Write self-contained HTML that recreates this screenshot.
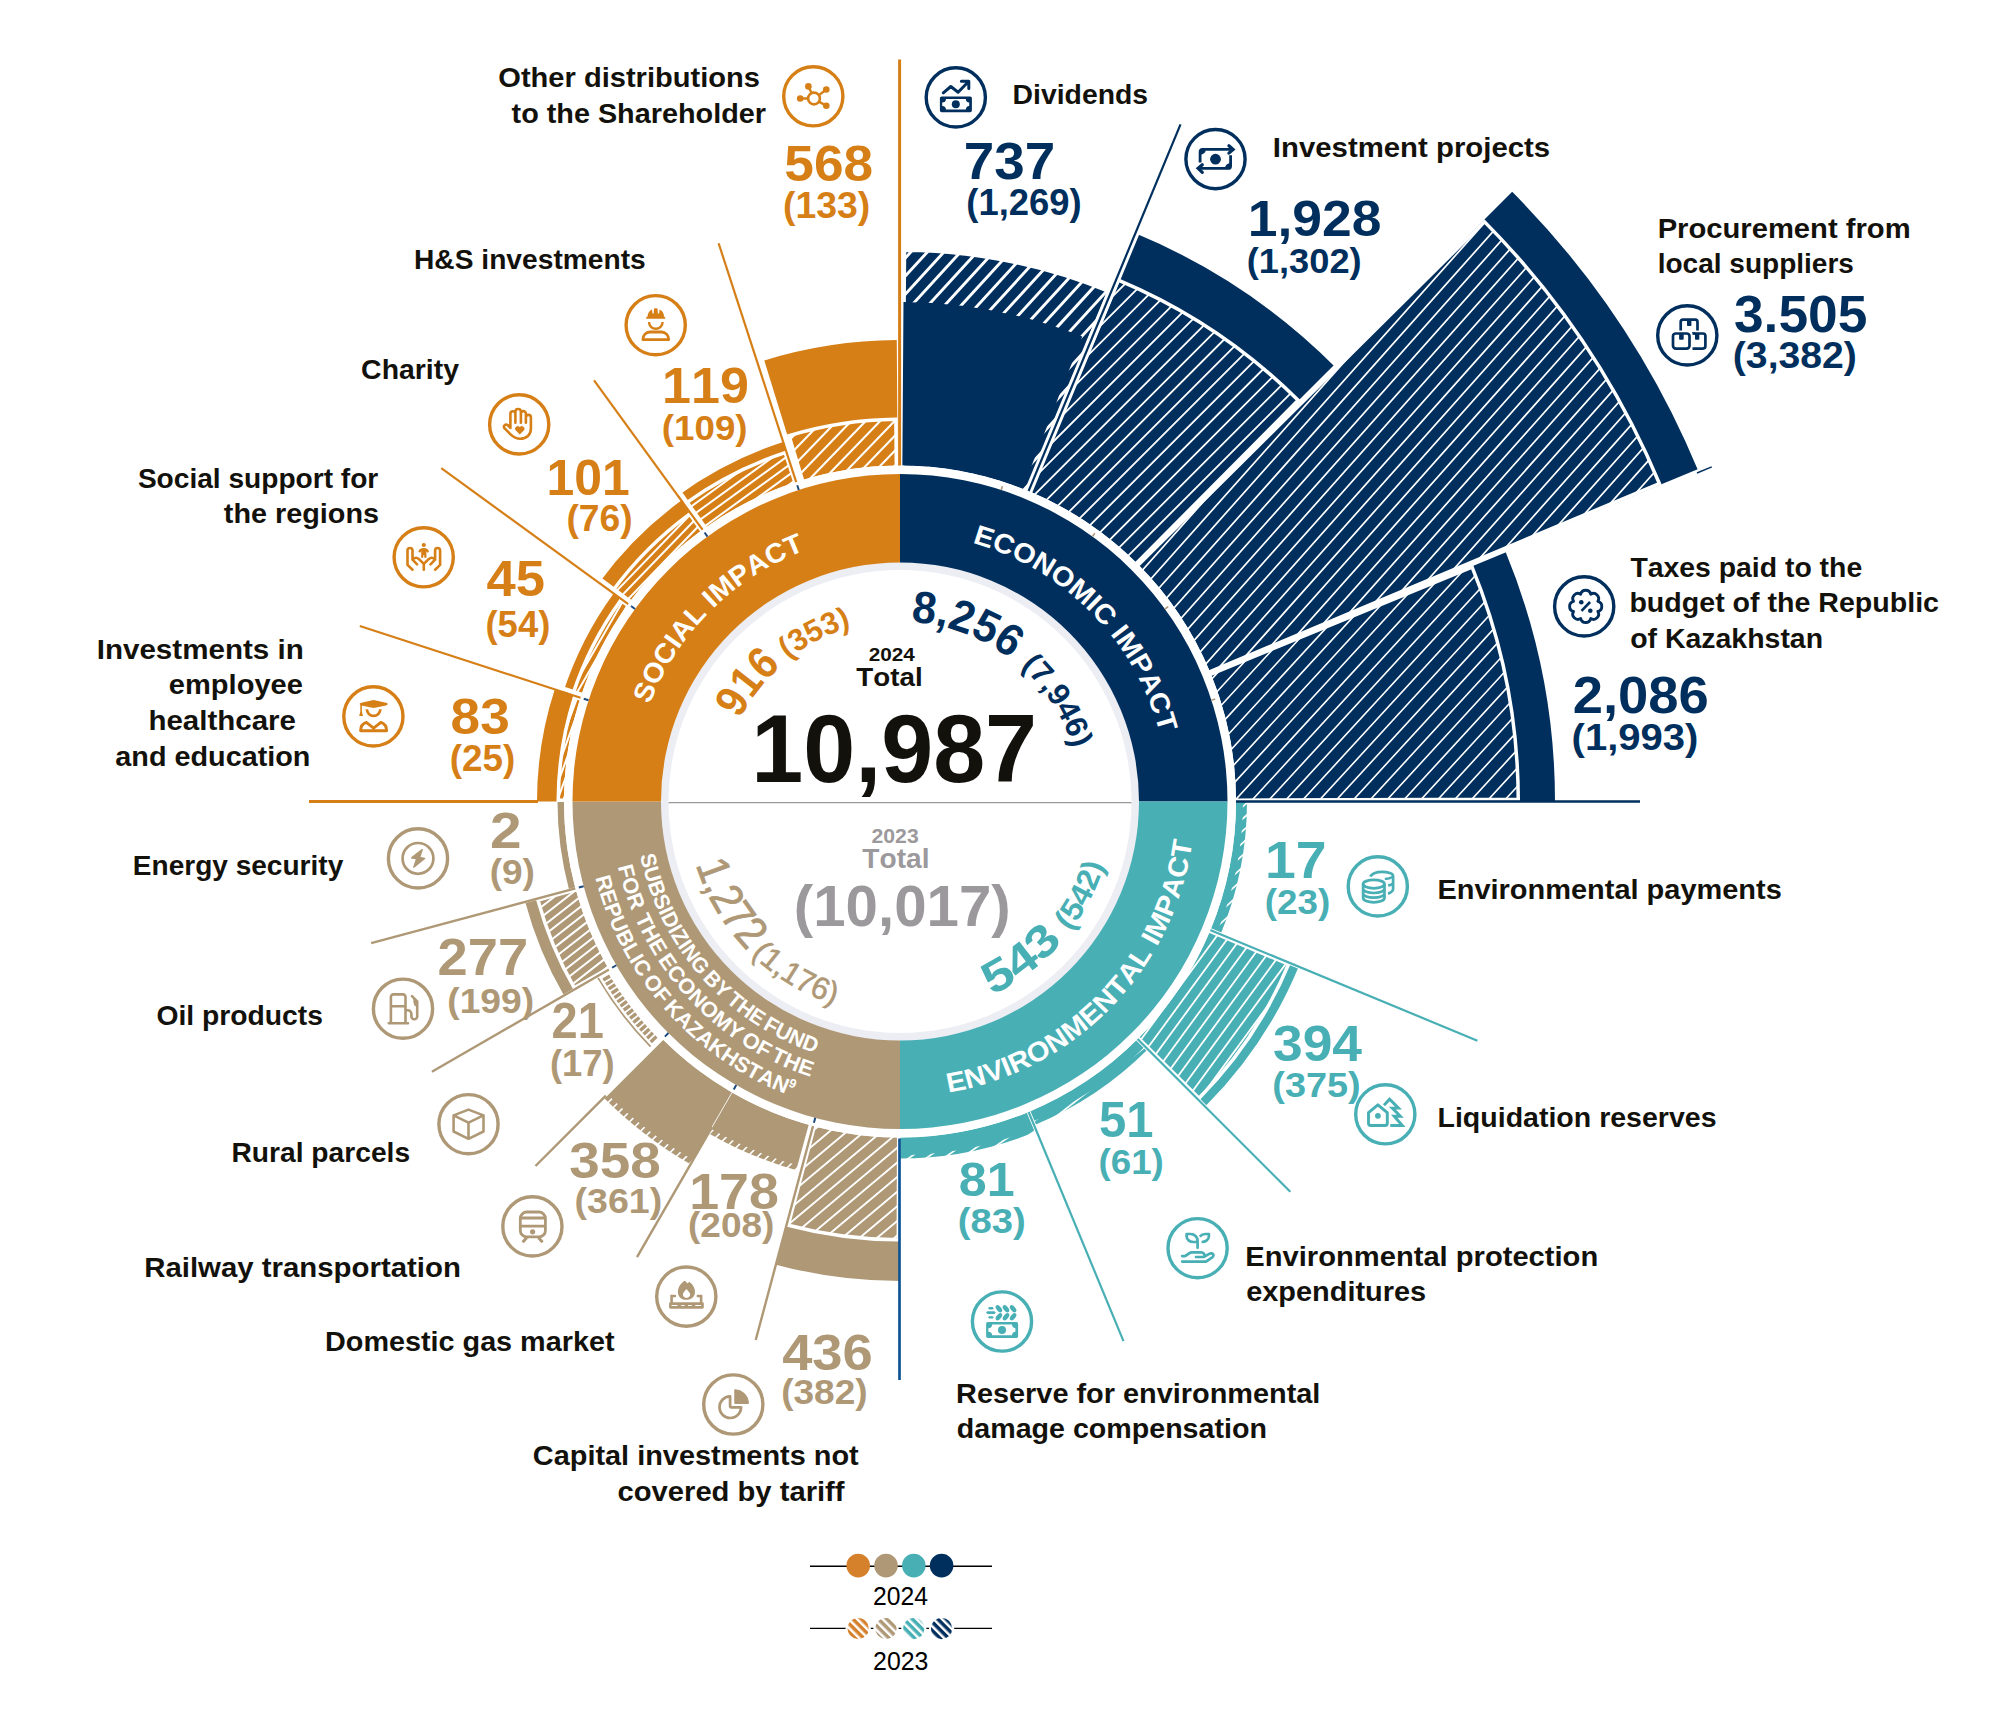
<!DOCTYPE html>
<html lang="en"><head><meta charset="utf-8"><title>Impact infographic</title><style>html,body{margin:0;padding:0;background:#fff}body{width:2001px;height:1722px;overflow:hidden}svg{display:block}text{white-space:pre;font-kerning:none;font-variant-ligatures:none}</style></head><body>
<svg width="2001" height="1722" viewBox="0 0 2001 1722" font-family="'Liberation Sans', 'DejaVu Sans', sans-serif">
<defs><pattern id="h_lo" width="6" height="6" patternUnits="userSpaceOnUse" patternTransform="rotate(-45)"><rect width="6" height="6" fill="#D5802B"/><rect x="0" y="0" width="2.5" height="6" fill="#fff"/></pattern><pattern id="h_lt" width="6" height="6" patternUnits="userSpaceOnUse" patternTransform="rotate(-45)"><rect width="6" height="6" fill="#AE9876"/><rect x="0" y="0" width="2.5" height="6" fill="#fff"/></pattern><pattern id="h_le" width="6" height="6" patternUnits="userSpaceOnUse" patternTransform="rotate(-45)"><rect width="6" height="6" fill="#48AFB5"/><rect x="0" y="0" width="2.5" height="6" fill="#fff"/></pattern><pattern id="h_ln" width="6" height="6" patternUnits="userSpaceOnUse" patternTransform="rotate(-45)"><rect width="6" height="6" fill="#002F5D"/><rect x="0" y="0" width="2.5" height="6" fill="#fff"/></pattern><clipPath id="c_div"><path d="M904.52 250.27A551.25 551.25 0 0 1 1109 291.41L1026.73 492.2A334.25 334.25 0 0 0 902.74 467.26Z"/></clipPath><clipPath id="c_inv"><path d="M1118.32 280.11A565.25 565.25 0 0 1 1298.15 400.28L1135.44 564.24A334.25 334.25 0 0 0 1029.1 493.19Z"/></clipPath><clipPath id="c_pro"><path d="M1484.36 221.61A823.25 823.25 0 0 1 1659.37 483.54L1208.31 672.4A334.25 334.25 0 0 0 1137.26 566.06Z"/></clipPath><clipPath id="c_tax"><path d="M1472.09 567.1A618.25 618.25 0 0 1 1518.25 799.13L1234.25 800.22A334.25 334.25 0 0 0 1209.3 674.77Z"/></clipPath><clipPath id="c_envp"><path d="M1248 801.5A348 348 0 0 1 1221.51 934.67L1216.89 932.76A343 343 0 0 0 1243 801.5Z"/></clipPath><clipPath id="c_liq"><path d="M1288.56 964.2A421.25 421.25 0 0 1 1199.01 1098.22L1137.26 1036.94A334.25 334.25 0 0 0 1208.31 930.6Z"/></clipPath><clipPath id="c_envx"><path d="M1148.55 1050.05A351.5 351.5 0 0 1 1034.51 1126.24L1032.6 1121.62A346.5 346.5 0 0 0 1145.01 1046.51Z"/></clipPath><clipPath id="c_res"><path d="M1037 1132.25A358 358 0 0 1 900 1159.5L900 1155A353.5 353.5 0 0 0 1035.28 1128.09Z"/></clipPath><clipPath id="c_cap"><path d="M898.32 1239.75A438.25 438.25 0 0 1 788.2 1225.25L814.73 1124.69A334.25 334.25 0 0 0 898.72 1135.75Z"/></clipPath><clipPath id="c_gas"><path d="M800.61 1172.42A384 384 0 0 1 708 1134.05L711 1128.86A378 378 0 0 0 802.17 1166.62Z"/></clipPath><clipPath id="c_rail"><path d="M690 1165.23A420 420 0 0 1 603.02 1098.48L607.26 1094.24A414 414 0 0 0 693 1160.03Z"/></clipPath><clipPath id="c_oil"><path d="M574.31 987.88A375.25 375.25 0 0 1 537.91 900.01L577.47 889.25A334.25 334.25 0 0 0 609.89 967.51Z"/></clipPath><clipPath id="c_emp"><path d="M558.25 800.19A341.75 341.75 0 0 1 574.57 697.14L581.72 699.43A334.25 334.25 0 0 0 565.75 800.22Z"/></clipPath><clipPath id="c_soc"><path d="M573.01 693.86A344.25 344.25 0 0 1 620.72 600.23L628.83 606.07A334.25 334.25 0 0 0 582.51 696.99Z"/></clipPath><clipPath id="c_cha"><path d="M612.59 591A356.25 356.25 0 0 1 689.5 514.09L702.5 531.84A334.25 334.25 0 0 0 630.34 604Z"/></clipPath><clipPath id="c_hs"><path d="M685.28 503.56A367.25 367.25 0 0 1 785.17 452.66L795.49 484.01A334.25 334.25 0 0 0 704.57 530.33Z"/></clipPath><clipPath id="c_oth"><path d="M789.01 435.72A382.25 382.25 0 0 1 895.86 419.27L896.38 467.27A334.25 334.25 0 0 0 802.94 481.65Z"/></clipPath><path id="cp1" d="M649.67 704.4A268.5 268.5 0 0 1 804.65 550.5"/><path id="cp2" d="M972.2 542.89A268.5 268.5 0 0 1 1159.59 732.91"/><path id="cp3" d="M948.18 1092.54A295 295 0 0 0 1192.27 841.54"/><path id="cp4" d="M640.02 855.34A265.5 265.5 0 0 0 815.32 1053.13"/><path id="cp5" d="M617.92 866.62A289.5 289.5 0 0 0 810.54 1076.83"/><path id="cp6" d="M595.33 877.46A314 314 0 0 0 791.58 1096.19"/><path id="cp7" d="M739.91 719.22A180 180 0 0 1 781.44 666.07"/><path id="cp8" d="M788.07 659.26A181 181 0 0 1 851.33 627.17"/><path id="cp9" d="M910.68 621.82A180 180 0 0 1 1010.32 659.27"/><path id="cp10" d="M1020.64 666.57A181 181 0 0 1 1073.09 748.58"/><path id="cp11" d="M696.05 864.63A213.5 213.5 0 0 0 747.46 950.88"/><path id="cp12" d="M751.16 954.56A213.5 213.5 0 0 0 834.02 1004.55"/><path id="cp13" d="M992.01 995.27A214.5 214.5 0 0 0 1062.86 941.09"/><path id="cp14" d="M1070 931.48A214 214 0 0 0 1104.43 864.78"/></defs>
<rect width="2001" height="1722" fill="#fff"/>
<g id="bars"><path d="M904.52 250.27A551.25 551.25 0 0 1 1109 291.41L1026.73 492.2A334.25 334.25 0 0 0 902.74 467.26Z" fill="#002F5D"/><path clip-path="url(#c_div)" d="M987.98 131.71L765.7 374.29M996.98 139.95L774.69 382.53M1005.97 148.2L783.69 390.78M1014.97 156.44L792.68 399.02M1023.96 164.68L801.68 407.26M1032.96 172.92L810.67 415.5M1041.95 181.17L819.67 423.75M1050.94 189.41L828.66 431.99M1059.94 197.65L837.66 440.23M1068.93 205.89L846.65 448.47M1077.93 214.13L855.65 456.71M1086.92 222.38L864.64 464.96M1095.92 230.62L873.64 473.2M1104.91 238.86L882.63 481.44M1113.91 247.1L891.63 489.68M1122.9 255.35L900.62 497.93M1131.9 263.59L909.61 506.17M1140.89 271.83L918.61 514.41M1149.89 280.07L927.6 522.65M1158.88 288.31L936.6 530.89M1167.88 296.56L945.59 539.14M1176.87 304.8L954.59 547.38M1185.87 313.04L963.58 555.62M1194.86 321.28L972.58 563.86M1203.86 329.53L981.57 572.11M1212.85 337.77L990.57 580.35M1221.85 346.01L999.56 588.59M1230.84 354.25L1008.56 596.83M1239.84 362.49L1017.55 605.07" stroke="#fff" stroke-width="2.9" fill="none"/><path d="M904.52 250.27A551.25 551.25 0 0 1 1109 291.41L1026.73 492.2A334.25 334.25 0 0 0 902.74 467.26Z" fill="none" stroke="#fff" stroke-width="3.5" stroke-linejoin="miter"/><path d="M903.49 302.01A499.5 499.5 0 0 1 1082.26 336.44L1022.6 488.67A336 336 0 0 0 902.35 465.51Z" fill="#002F5D"/><path d="M1135.35 233.31A615 615 0 0 1 1334.87 366.63L1137.59 563.91A336 336 0 0 0 1028.58 491.08Z" fill="#002F5D"/><path d="M1118.32 280.11A565.25 565.25 0 0 1 1298.15 400.28L1135.44 564.24A334.25 334.25 0 0 0 1029.1 493.19Z" fill="#002F5D"/><path clip-path="url(#c_inv)" d="M1157.37 131.33L872.78 415.92M1165.96 139.92L881.37 424.52M1174.56 148.51L889.96 433.11M1183.15 157.1L898.55 441.7M1191.74 165.69L907.14 450.29M1200.33 174.29L915.73 458.88M1208.92 182.88L924.33 467.47M1217.51 191.47L932.92 476.06M1226.1 200.06L941.51 484.66M1234.69 208.65L950.1 493.25M1243.29 217.24L958.69 501.84M1251.88 225.83L967.28 510.43M1260.47 234.43L975.87 519.02M1269.06 243.02L984.47 527.61M1277.65 251.61L993.06 536.2M1286.24 260.2L1001.65 544.79M1294.83 268.79L1010.24 553.39M1303.43 277.38L1018.83 561.98M1312.02 285.97L1027.42 570.57M1320.61 294.57L1036.01 579.16M1329.2 303.16L1044.6 587.75M1337.79 311.75L1053.2 596.34M1346.38 320.34L1061.79 604.93M1354.97 328.93L1070.38 613.53M1363.56 337.52L1078.97 622.12M1372.16 346.11L1087.56 630.71M1380.75 354.7L1096.15 639.3M1389.34 363.3L1104.74 647.89M1397.93 371.89L1113.34 656.48M1406.52 380.48L1121.93 665.07M1415.11 389.07L1130.52 673.67M1423.7 397.66L1139.11 682.26M1432.3 406.25L1147.7 690.85M1440.89 414.84L1156.29 699.44M1449.48 423.44L1164.88 708.03" stroke="#fff" stroke-width="1.8" fill="none"/><path d="M1118.32 280.11A565.25 565.25 0 0 1 1298.15 400.28L1135.44 564.24A334.25 334.25 0 0 0 1029.1 493.19Z" fill="none" stroke="#fff" stroke-width="3.5" stroke-linejoin="miter"/><path d="M1510.94 190.56A864 864 0 0 1 1698.23 470.86L1210.42 672.92A336 336 0 0 0 1137.59 563.91Z" fill="#002F5D"/><path d="M1484.36 221.61A823.25 823.25 0 0 1 1659.37 483.54L1208.31 672.4A334.25 334.25 0 0 0 1137.26 566.06Z" fill="#002F5D"/><path clip-path="url(#c_pro)" d="M1365.83 -47.48L903.37 471.58M1374.94 -39.36L912.48 479.7M1384.05 -31.25L921.59 487.81M1393.16 -23.13L930.7 495.93M1402.27 -15.02L939.8 504.04M1411.38 -6.9L948.91 512.16M1420.49 1.22L958.02 520.28M1429.6 9.33L967.13 528.39M1438.71 17.45L976.24 536.51M1447.82 25.56L985.35 544.62M1456.92 33.68L994.46 552.74M1466.03 41.79L1003.57 560.86M1475.14 49.91L1012.68 568.97M1484.25 58.03L1021.79 577.09M1493.36 66.14L1030.89 585.2M1502.47 74.26L1040 593.32M1511.58 82.37L1049.11 601.43M1520.69 90.49L1058.22 609.55M1529.8 98.61L1067.33 617.67M1538.91 106.72L1076.44 625.78M1548.01 114.84L1085.55 633.9M1557.12 122.95L1094.66 642.01M1566.23 131.07L1103.77 650.13M1575.34 139.18L1112.88 658.24M1584.45 147.3L1121.98 666.36M1593.56 155.42L1131.09 674.48M1602.67 163.53L1140.2 682.59M1611.78 171.65L1149.31 690.71M1620.89 179.76L1158.42 698.82M1630 187.88L1167.53 706.94M1639.1 196L1176.64 715.06M1648.21 204.11L1185.75 723.17M1657.32 212.23L1194.86 731.29M1666.43 220.34L1203.97 739.4M1675.54 228.46L1213.07 747.52M1684.65 236.57L1222.18 755.63M1693.76 244.69L1231.29 763.75M1702.87 252.81L1240.4 771.87M1711.98 260.92L1249.51 779.98M1721.09 269.04L1258.62 788.1M1730.19 277.15L1267.73 796.21M1739.3 285.27L1276.84 804.33M1748.41 293.39L1285.95 812.45M1757.52 301.5L1295.06 820.56M1766.63 309.62L1304.16 828.68M1775.74 317.73L1313.27 836.79M1784.85 325.85L1322.38 844.91M1793.96 333.96L1331.49 853.02M1803.07 342.08L1340.6 861.14M1812.18 350.2L1349.71 869.26M1821.28 358.31L1358.82 877.37M1830.39 366.43L1367.93 885.49M1839.5 374.54L1377.04 893.6M1848.61 382.66L1386.15 901.72M1857.72 390.77L1395.25 909.84M1866.83 398.89L1404.36 917.95M1875.94 407.01L1413.47 926.07M1885.05 415.12L1422.58 934.18M1894.16 423.24L1431.69 942.3" stroke="#fff" stroke-width="1.7" fill="none"/><path d="M1484.36 221.61A823.25 823.25 0 0 1 1659.37 483.54L1208.31 672.4A334.25 334.25 0 0 0 1137.26 566.06Z" fill="none" stroke="#fff" stroke-width="3.5" stroke-linejoin="miter"/><path d="M1505.14 550.84A655 655 0 0 1 1555 801.5L1236 801.5A336 336 0 0 0 1210.42 672.92Z" fill="#002F5D"/><path d="M1472.09 567.1A618.25 618.25 0 0 1 1518.25 799.13L1234.25 800.22A334.25 334.25 0 0 0 1209.3 674.77Z" fill="#002F5D"/><path clip-path="url(#c_tax)" d="M1347.89 402.77L1082.54 691.33M1357.01 411.16L1091.66 699.73M1366.14 419.56L1100.79 708.12M1375.27 427.95L1109.92 716.51M1384.4 436.34L1119.05 724.91M1393.52 444.74L1128.18 733.3M1402.65 453.13L1137.3 741.69M1411.78 461.52L1146.43 750.09M1420.91 469.92L1155.56 758.48M1430.03 478.31L1164.69 766.87M1439.16 486.7L1173.81 775.27M1448.29 495.1L1182.94 783.66M1457.42 503.49L1192.07 792.05M1466.55 511.88L1201.2 800.45M1475.67 520.28L1210.32 808.84M1484.8 528.67L1219.45 817.23M1493.93 537.06L1228.58 825.63M1503.06 545.45L1237.71 834.02M1512.18 553.85L1246.83 842.41M1521.31 562.24L1255.96 850.81M1530.44 570.63L1265.09 859.2M1539.57 579.03L1274.22 867.59M1548.69 587.42L1283.34 875.99M1557.82 595.81L1292.47 884.38M1566.95 604.21L1301.6 892.77M1576.08 612.6L1310.73 901.17M1585.2 620.99L1319.85 909.56M1594.33 629.39L1328.98 917.95M1603.46 637.78L1338.11 926.35M1612.59 646.17L1347.24 934.74M1621.71 654.57L1356.37 943.13M1630.84 662.96L1365.49 951.53M1639.97 671.35L1374.62 959.92M1649.1 679.75L1383.75 968.31" stroke="#fff" stroke-width="1.6" fill="none"/><path d="M1472.09 567.1A618.25 618.25 0 0 1 1518.25 799.13L1234.25 800.22A334.25 334.25 0 0 0 1209.3 674.77Z" fill="none" stroke="#fff" stroke-width="3.5" stroke-linejoin="miter"/><path d="M1247 801.5A347 347 0 0 1 1220.59 934.29L1210.42 930.08A336 336 0 0 0 1236 801.5Z" fill="#48AFB5"/><path clip-path="url(#c_envp)" d="M1234.33 777.87L1142.53 860.53M1240.35 784.56L1148.55 867.22M1246.37 791.25L1154.57 873.91M1252.4 797.94L1160.6 880.59M1258.42 804.63L1166.62 887.28M1264.44 811.32L1172.64 893.97M1270.46 818L1178.66 900.66M1276.48 824.69L1184.68 907.35M1282.51 831.38L1190.71 914.04M1288.53 838.07L1196.73 920.72M1294.55 844.76L1202.75 927.41M1300.57 851.45L1208.77 934.1M1306.59 858.13L1214.8 940.79M1312.62 864.82L1220.82 947.48M1318.64 871.51L1226.84 954.17M1324.66 878.2L1232.86 960.85" stroke="#fff" stroke-width="1.7" fill="none"/><path d="M1298.65 966.63A431.5 431.5 0 0 1 1205.12 1106.62L1137.59 1039.09A336 336 0 0 0 1210.42 930.08Z" fill="#48AFB5"/><path d="M1288.56 964.2A421.25 421.25 0 0 1 1199.01 1098.22L1137.26 1036.94A334.25 334.25 0 0 0 1208.31 930.6Z" fill="#48AFB5"/><path clip-path="url(#c_liq)" d="M1181.2 845.09L1041.93 1035.38M1189.51 851.18L1050.24 1041.47M1197.83 857.26L1058.55 1047.55M1206.14 863.34L1066.87 1053.63M1214.45 869.43L1075.18 1059.72M1222.76 875.51L1083.49 1065.8M1231.07 881.59L1091.8 1071.88M1239.38 887.68L1100.11 1077.97M1247.7 893.76L1108.42 1084.05M1256.01 899.84L1116.74 1090.13M1264.32 905.93L1125.05 1096.22M1272.63 912.01L1133.36 1102.3M1280.94 918.09L1141.67 1108.38M1289.25 924.18L1149.98 1114.46M1297.57 930.26L1158.29 1120.55M1305.88 936.34L1166.61 1126.63M1314.19 942.43L1174.92 1132.71M1322.5 948.51L1183.23 1138.8M1330.81 954.59L1191.54 1144.88M1339.12 960.67L1199.85 1150.96M1347.44 966.76L1208.16 1157.05M1355.75 972.84L1216.48 1163.13M1364.06 978.92L1224.79 1169.21M1372.37 985.01L1233.1 1175.3M1380.68 991.09L1241.41 1181.38" stroke="#fff" stroke-width="1.8" fill="none"/><path d="M1288.56 964.2A421.25 421.25 0 0 1 1199.01 1098.22L1137.26 1036.94A334.25 334.25 0 0 0 1208.31 930.6Z" fill="none" stroke="#fff" stroke-width="3.5" stroke-linejoin="miter"/><path d="M1147.84 1049.34A350.5 350.5 0 0 1 1034.13 1125.32L1028.58 1111.92A336 336 0 0 0 1137.59 1039.09Z" fill="#48AFB5"/><path clip-path="url(#c_envx)" d="M1102.62 978.61L983.09 1072M1108.78 986.49L989.25 1079.88M1114.94 994.37L995.41 1087.76M1121.09 1002.25L1001.56 1095.64M1127.25 1010.13L1007.72 1103.52M1133.41 1018.01L1013.88 1111.4M1139.56 1025.89L1020.03 1119.28M1145.72 1033.77L1026.19 1127.16M1151.88 1041.65L1032.35 1135.04M1158.03 1049.53L1038.5 1142.92M1164.19 1057.41L1044.66 1150.8M1170.35 1065.29L1050.82 1158.68M1176.5 1073.17L1056.97 1166.56M1182.66 1081.05L1063.13 1174.44M1188.82 1088.93L1069.29 1182.32M1194.97 1096.81L1075.44 1190.2M1201.13 1104.69L1081.6 1198.08" stroke="#fff" stroke-width="1.7" fill="none"/><path d="M1036.62 1131.32A357 357 0 0 1 900 1158.5L900 1137.5A336 336 0 0 0 1028.58 1111.92Z" fill="#48AFB5"/><path clip-path="url(#c_res)" d="M990.59 1052.09L874.77 1133.18M996.32 1060.28L880.51 1141.38M1002.06 1068.47L886.24 1149.57M1007.79 1076.67L891.98 1157.76M1013.53 1084.86L897.72 1165.95M1019.26 1093.05L903.45 1174.14M1025 1101.24L909.19 1182.33M1030.74 1109.43L914.92 1190.53M1036.47 1117.62L920.66 1198.72M1042.21 1125.82L926.4 1206.91M1047.94 1134.01L932.13 1215.1M1053.68 1142.2L937.87 1223.29M1059.42 1150.39L943.6 1231.48M1065.15 1158.58L949.34 1239.67" stroke="#fff" stroke-width="1.7" fill="none"/><path d="M900 1281A479.5 479.5 0 0 1 775.9 1264.66L813.04 1126.05A336 336 0 0 0 900 1137.5Z" fill="#AE9876"/><path d="M898.32 1239.75A438.25 438.25 0 0 1 788.2 1225.25L814.73 1124.69A334.25 334.25 0 0 0 898.72 1135.75Z" fill="#AE9876"/><path clip-path="url(#c_cap)" d="M849.01 1056.68L718.87 1165.89M856.21 1065.26L726.07 1174.47M863.41 1073.84L733.27 1183.05M870.61 1082.42L740.46 1191.63M877.81 1091L747.66 1200.21M885.01 1099.58L754.86 1208.79M892.2 1108.16L762.06 1217.37M899.4 1116.74L769.26 1225.94M906.6 1125.32L776.46 1234.52M913.8 1133.9L783.66 1243.1M921 1142.48L790.86 1251.68M928.2 1151.06L798.06 1260.26M935.4 1159.64L805.26 1268.84M942.6 1168.22L812.46 1277.42M949.8 1176.8L819.66 1286M957 1185.38L826.86 1294.58M964.2 1193.96L834.05 1303.16" stroke="#fff" stroke-width="1.9" fill="none"/><path d="M898.32 1239.75A438.25 438.25 0 0 1 788.2 1225.25L814.73 1124.69A334.25 334.25 0 0 0 898.72 1135.75Z" fill="none" stroke="#fff" stroke-width="3.5" stroke-linejoin="miter"/><path d="M800.87 1171.45A383 383 0 0 1 708.5 1133.19L732 1092.48A336 336 0 0 0 813.04 1126.05Z" fill="#AE9876"/><path clip-path="url(#c_gas)" d="M751.97 1070.66L675.11 1147.53M757.06 1075.76L680.2 1152.62M762.16 1080.85L685.29 1157.71M767.25 1085.94L690.38 1162.8M772.34 1091.03L695.48 1167.89M777.43 1096.12L700.57 1172.98M782.52 1101.21L705.66 1178.07M787.61 1106.3L710.75 1183.17M792.7 1111.39L715.84 1188.26M797.79 1116.49L720.93 1193.35M802.89 1121.58L726.02 1198.44M807.98 1126.67L731.11 1203.53M813.07 1131.76L736.21 1208.62M818.16 1136.85L741.3 1213.71M823.25 1141.94L746.39 1218.8M828.34 1147.03L751.48 1223.89M833.43 1152.12L756.57 1228.99" stroke="#fff" stroke-width="1.6" fill="none"/><path d="M690.5 1164.36A419 419 0 0 1 603.72 1097.78L662.41 1039.09A336 336 0 0 0 732 1092.48Z" fill="#AE9876"/><path clip-path="url(#c_rail)" d="M643.42 1036.66L554.94 1125.15M648.51 1041.76L560.03 1130.24M653.6 1046.85L565.12 1135.33M658.7 1051.94L570.21 1140.42M663.79 1057.03L575.3 1145.52M668.88 1062.12L580.39 1150.61M673.97 1067.21L585.48 1155.7M679.06 1072.3L590.57 1160.79M684.15 1077.39L595.66 1165.88M689.24 1082.48L600.76 1170.97M694.33 1087.58L605.85 1176.06M699.42 1092.67L610.94 1181.15M704.52 1097.76L616.03 1186.24M709.61 1102.85L621.12 1191.34M714.7 1107.94L626.21 1196.43M719.79 1113.03L631.3 1201.52M724.88 1118.12L636.39 1206.61M729.97 1123.21L641.48 1211.7M735.06 1128.3L646.58 1216.79M740.15 1133.4L651.67 1221.88" stroke="#fff" stroke-width="1.6" fill="none"/><path d="M651.96 1043.16A346.3 346.3 0 0 1 649.57 1040.68L655.21 1035.3A338.5 338.5 0 0 0 657.55 1037.72ZM648.35 1039.4A346.3 346.3 0 0 1 646 1036.89L651.72 1031.58A338.5 338.5 0 0 0 654.02 1034.04ZM644.8 1035.58A346.3 346.3 0 0 1 642.48 1033.04L648.28 1027.82A338.5 338.5 0 0 0 650.54 1030.31ZM641.3 1031.72A346.3 346.3 0 0 1 639.03 1029.13L644.91 1024.01A338.5 338.5 0 0 0 647.13 1026.53ZM637.87 1027.79A346.3 346.3 0 0 1 635.63 1025.18L641.59 1020.14A338.5 338.5 0 0 0 643.77 1022.7ZM634.49 1023.82A346.3 346.3 0 0 1 632.29 1021.17L638.32 1016.23A338.5 338.5 0 0 0 640.47 1018.82ZM631.17 1019.8A346.3 346.3 0 0 1 629.02 1017.12L635.12 1012.26A338.5 338.5 0 0 0 637.23 1014.88ZM627.92 1015.73A346.3 346.3 0 0 1 625.8 1013.02L631.98 1008.25A338.5 338.5 0 0 0 634.05 1010.9ZM624.72 1011.61A346.3 346.3 0 0 1 622.65 1008.87L628.9 1004.19A338.5 338.5 0 0 0 630.92 1006.88ZM621.59 1007.44A346.3 346.3 0 0 1 619.56 1004.67L625.88 1000.09A338.5 338.5 0 0 0 627.86 1002.8ZM618.52 1003.23A346.3 346.3 0 0 1 616.53 1000.42L622.92 995.94A338.5 338.5 0 0 0 624.86 998.68ZM615.52 998.97A346.3 346.3 0 0 1 613.57 996.13L620.02 991.75A338.5 338.5 0 0 0 621.93 994.52ZM612.58 994.66A346.3 346.3 0 0 1 610.67 991.8L617.19 987.51A338.5 338.5 0 0 0 619.05 990.31ZM609.7 990.32A346.3 346.3 0 0 1 607.84 987.42L614.42 983.23A338.5 338.5 0 0 0 616.24 986.06ZM606.89 985.92A346.3 346.3 0 0 1 605.08 983L611.72 978.92A338.5 338.5 0 0 0 613.5 981.77ZM604.15 981.49A346.3 346.3 0 0 1 602.38 978.54L609.08 974.56A338.5 338.5 0 0 0 610.81 977.44Z" fill="#AE9876"/><path d="M650.58 1046.61A349.7 349.7 0 0 1 598.07 977.93" fill="none" stroke="#AE9876" stroke-width="1.7"/><path d="M563.98 995.5A388 388 0 0 1 525.22 901.92L575.45 888.46A336 336 0 0 0 609.02 969.5Z" fill="#AE9876"/><path d="M574.31 987.88A375.25 375.25 0 0 1 537.91 900.01L577.47 889.25A334.25 334.25 0 0 0 609.89 967.51Z" fill="#AE9876"/><path clip-path="url(#c_oil)" d="M582.16 844.64L480.77 923.86M587.09 850.94L485.69 930.16M592.01 857.25L490.62 936.46M596.94 863.55L495.55 942.77M601.86 869.86L500.47 949.07M606.79 876.16L505.4 955.38M611.71 882.46L510.32 961.68M616.64 888.77L515.25 967.99M621.57 895.07L520.17 974.29M626.49 901.38L525.1 980.59M631.42 907.68L530.02 986.9M636.34 913.98L534.95 993.2M641.27 920.29L539.87 999.51M646.19 926.59L544.8 1005.81M651.12 932.9L549.72 1012.11M656.04 939.2L554.65 1018.42M660.97 945.5L559.57 1024.72M665.89 951.81L564.5 1031.03" stroke="#fff" stroke-width="2" fill="none"/><path d="M574.31 987.88A375.25 375.25 0 0 1 537.91 900.01L577.47 889.25A334.25 334.25 0 0 0 609.89 967.51Z" fill="none" stroke="#fff" stroke-width="3.5" stroke-linejoin="miter"/><path d="M569.17 890.15A342.5 342.5 0 0 1 557.5 801.5L564 801.5A336 336 0 0 0 575.45 888.46Z" fill="#AE9876"/><path d="M537 801.5A363 363 0 0 1 554.77 689.33L580.45 697.67A336 336 0 0 0 564 801.5Z" fill="#D67F17"/><path d="M558.25 800.19A341.75 341.75 0 0 1 574.57 697.14L581.72 699.43A334.25 334.25 0 0 0 565.75 800.22Z" fill="#D67F17"/><path clip-path="url(#c_emp)" d="M553.8 681.53L514.42 789.72M558.97 683.41L519.59 791.6M564.14 685.29L524.76 793.48M569.31 687.17L529.93 795.36M574.48 689.05L535.1 797.24M579.64 690.93L540.26 799.13M584.81 692.81L545.43 801.01M589.98 694.69L550.6 802.89M595.15 696.58L555.77 804.77M600.32 698.46L560.94 806.65M605.49 700.34L566.11 808.53M610.65 702.22L571.27 810.41M615.82 704.1L576.44 812.29M620.99 705.98L581.61 814.17M626.16 707.86L586.78 816.06" stroke="#fff" stroke-width="2" fill="none"/><path d="M558.25 800.19A341.75 341.75 0 0 1 574.57 697.14L581.72 699.43A334.25 334.25 0 0 0 565.75 800.22Z" fill="none" stroke="#fff" stroke-width="3.5" stroke-linejoin="miter"/><path d="M563.33 692.11A354 354 0 0 1 613.61 593.42L628.17 604A336 336 0 0 0 580.45 697.67Z" fill="#D67F17"/><path d="M573.01 693.86A344.25 344.25 0 0 1 620.72 600.23L628.83 606.07A334.25 334.25 0 0 0 582.51 696.99Z" fill="#D67F17"/><path clip-path="url(#c_soc)" d="M580.73 566.14L519.41 672.36M585.93 569.14L524.61 675.36M591.12 572.14L529.8 678.36M596.32 575.14L535 681.36M601.52 578.14L540.19 684.36M606.71 581.14L545.39 687.36M611.91 584.14L550.59 690.36M617.1 587.14L555.78 693.36M622.3 590.14L560.98 696.36M627.5 593.14L566.18 699.36M632.69 596.14L571.37 702.36M637.89 599.14L576.57 705.36M643.08 602.14L581.76 708.36M648.28 605.14L586.96 711.36M653.48 608.14L592.16 714.36M658.67 611.14L597.35 717.36M663.87 614.14L602.55 720.36M669.07 617.14L607.74 723.36M674.26 620.14L612.94 726.36M679.46 623.14L618.14 729.36" stroke="#fff" stroke-width="2" fill="none"/><path d="M573.01 693.86A344.25 344.25 0 0 1 620.72 600.23L628.83 606.07A334.25 334.25 0 0 0 582.51 696.99Z" fill="none" stroke="#fff" stroke-width="3.5" stroke-linejoin="miter"/><path d="M599.05 582.84A372 372 0 0 1 681.34 500.55L702.5 529.67A336 336 0 0 0 628.17 604Z" fill="#D67F17"/><path d="M612.59 591A356.25 356.25 0 0 1 689.5 514.09L702.5 531.84A334.25 334.25 0 0 0 630.34 604Z" fill="#D67F17"/><path clip-path="url(#c_cha)" d="M655.03 460.39L558.86 559.97M660.06 465.25L563.9 564.83M665.1 470.12L568.93 569.7M670.13 474.98L573.97 574.56M675.17 479.84L579 579.42M680.2 484.7L584.04 584.28M685.24 489.57L589.07 589.15M690.27 494.43L594.11 594.01M695.31 499.29L599.15 598.87M700.34 504.15L604.18 603.73M705.38 509.02L609.22 608.6M710.42 513.88L614.25 613.46M715.45 518.74L619.29 618.32M720.49 523.6L624.32 623.18M725.52 528.47L629.36 628.05M730.56 533.33L634.39 632.91M735.59 538.19L639.43 637.77M740.63 543.05L644.46 642.63M745.66 547.92L649.5 647.5M750.7 552.78L654.53 652.36M755.73 557.64L659.57 657.22" stroke="#fff" stroke-width="2" fill="none"/><path d="M612.59 591A356.25 356.25 0 0 1 689.5 514.09L702.5 531.84A334.25 334.25 0 0 0 630.34 604Z" fill="none" stroke="#fff" stroke-width="3.5" stroke-linejoin="miter"/><path d="M677.82 495.69A378 378 0 0 1 783.19 442L796.17 481.95A336 336 0 0 0 702.5 529.67Z" fill="#D67F17"/><path d="M685.28 503.56A367.25 367.25 0 0 1 785.17 452.66L795.49 484.01A334.25 334.25 0 0 0 704.57 530.33Z" fill="#D67F17"/><path clip-path="url(#c_hs)" d="M756.64 389.68L638.53 475.49M761.34 396.15L643.23 481.97M766.04 402.63L647.93 488.44M770.75 409.1L652.64 494.91M775.45 415.57L657.34 501.38M780.15 422.04L662.04 507.85M784.85 428.51L666.74 514.33M789.55 434.99L671.44 520.8M794.26 441.46L676.15 527.27M798.96 447.93L680.85 533.74M803.66 454.4L685.55 540.21M808.36 460.87L690.25 546.69M813.07 467.35L694.96 553.16M817.77 473.82L699.66 559.63M822.47 480.29L704.36 566.1M827.17 486.76L709.06 572.58M831.88 493.24L713.76 579.05M836.58 499.71L718.47 585.52M841.28 506.18L723.17 591.99" stroke="#fff" stroke-width="2" fill="none"/><path d="M685.28 503.56A367.25 367.25 0 0 1 785.17 452.66L795.49 484.01A334.25 334.25 0 0 0 704.57 530.33Z" fill="none" stroke="#fff" stroke-width="3.5" stroke-linejoin="miter"/><path d="M764.3 360.4A461.5 461.5 0 0 1 896.78 340.01L897.65 465.51A336 336 0 0 0 801.2 480.35Z" fill="#D67F17"/><path d="M789.01 435.72A382.25 382.25 0 0 1 895.86 419.27L896.38 467.27A334.25 334.25 0 0 0 802.94 481.65Z" fill="#D67F17"/><path clip-path="url(#c_oth)" d="M840.42 357.37L749.58 451.44M847.9 364.59L757.06 458.66M855.39 371.82L764.54 465.89M862.87 379.04L772.02 473.11M870.35 386.27L779.51 480.34M877.83 393.49L786.99 487.56M885.31 400.72L794.47 494.79M892.79 407.94L801.95 502.01M900.27 415.17L809.43 509.24M907.75 422.39L816.91 516.46M915.23 429.61L824.39 523.68M922.72 436.84L831.87 530.91M930.2 444.06L839.35 538.13M937.68 451.29L846.84 545.36" stroke="#fff" stroke-width="2.1" fill="none"/><path d="M789.01 435.72A382.25 382.25 0 0 1 895.86 419.27L896.38 467.27A334.25 334.25 0 0 0 802.94 481.65Z" fill="none" stroke="#fff" stroke-width="3.5" stroke-linejoin="miter"/></g>
<g id="lines"><line x1="1027.82" y1="492.92" x2="1137.26" y2="228.69" stroke="#fff" stroke-width="8"/><line x1="1136.17" y1="565.33" x2="1513.77" y2="187.73" stroke="#fff" stroke-width="3.4"/><line x1="1208.58" y1="673.68" x2="1701.93" y2="469.33" stroke="#fff" stroke-width="3.4"/><line x1="1208.58" y1="929.32" x2="1302.81" y2="968.35" stroke="#fff" stroke-width="4"/><line x1="1136.17" y1="1037.67" x2="1208.3" y2="1109.8" stroke="#fff" stroke-width="4"/><line x1="1027.82" y1="1110.08" x2="1066.85" y2="1204.31" stroke="#fff" stroke-width="4"/><line x1="811.59" y1="1123.59" x2="771.88" y2="1268.23" stroke="#fff" stroke-width="5"/><line x1="663.83" y1="1037.67" x2="557.76" y2="1143.74" stroke="#fff" stroke-width="2.4"/><line x1="610.75" y1="968.5" x2="480.84" y2="1043.5" stroke="#fff" stroke-width="2.4"/><line x1="577.38" y1="887.95" x2="432.49" y2="926.77" stroke="#fff" stroke-width="2.4"/><line x1="732" y1="1092.48" x2="689.5" y2="1166.1" stroke="#fff" stroke-width="0.8"/><line x1="583.26" y1="695.52" x2="458.08" y2="653.64" stroke="#fff" stroke-width="4.6"/><line x1="631.51" y1="602.83" x2="525.4" y2="524.31" stroke="#fff" stroke-width="4.6"/><line x1="706.05" y1="529.59" x2="629.39" y2="422.12" stroke="#fff" stroke-width="4.6"/><line x1="799.56" y1="482.96" x2="759.87" y2="357.07" stroke="#fff" stroke-width="4.6"/><line x1="899.6" y1="59.5" x2="899.6" y2="472" stroke="#D67F17" stroke-width="3"/><line x1="1229.5" y1="801.5" x2="1640" y2="801.5" stroke="#002F5D" stroke-width="2.4"/><line x1="899.5" y1="1138.5" x2="899.5" y2="1380" stroke="#0D5393" stroke-width="2.7"/><line x1="538" y1="801.5" x2="309" y2="801.5" stroke="#D67F17" stroke-width="3"/><line x1="1026.09" y1="497.08" x2="1180.51" y2="124.3" stroke="#002F5D" stroke-width="2.2"/><line x1="1696.96" y1="473.02" x2="1711.75" y2="466.92" stroke="#002F5D" stroke-width="1.5"/><line x1="1203.49" y1="927.21" x2="1477.42" y2="1040.68" stroke="#48AFB5" stroke-width="2.2"/><line x1="1132.28" y1="1033.78" x2="1290.32" y2="1191.82" stroke="#48AFB5" stroke-width="2.2"/><line x1="1025.71" y1="1104.99" x2="1123.49" y2="1341.05" stroke="#48AFB5" stroke-width="2.2"/><line x1="813.04" y1="1126.05" x2="755.71" y2="1340" stroke="#AE9876" stroke-width="2.4"/><line x1="712" y1="1127.13" x2="637" y2="1257.03" stroke="#AE9876" stroke-width="2.4"/><line x1="605.84" y1="1095.66" x2="535.49" y2="1166.01" stroke="#AE9876" stroke-width="2.4"/><line x1="609.02" y1="969.5" x2="431.91" y2="1071.75" stroke="#AE9876" stroke-width="2.4"/><line x1="575.45" y1="888.46" x2="371.16" y2="943.2" stroke="#AE9876" stroke-width="2.4"/><line x1="586.63" y1="699.68" x2="359.8" y2="625.98" stroke="#D67F17" stroke-width="2.2"/><line x1="633.43" y1="607.82" x2="441.29" y2="468.23" stroke="#D67F17" stroke-width="2.2"/><line x1="706.32" y1="534.93" x2="594.06" y2="380.41" stroke="#D67F17" stroke-width="2.2"/><line x1="798.18" y1="488.13" x2="718.61" y2="243.23" stroke="#D67F17" stroke-width="2.2"/></g>
<g id="ring"><circle cx="900.0" cy="801.5" r="336.0" fill="#fff"/><path d="M900 474A327.5 327.5 0 0 1 1227.5 801.5L1137 801.5A237 237 0 0 0 900 564.5Z" fill="#002F5D"/><path d="M1227.5 801.5A327.5 327.5 0 0 1 900 1129L900 1038.5A237 237 0 0 0 1137 801.5Z" fill="#48AFB5"/><path d="M900 1129A327.5 327.5 0 0 1 572.5 801.5L663 801.5A237 237 0 0 0 900 1038.5Z" fill="#AE9876"/><path d="M572.5 801.5A327.5 327.5 0 0 1 900 474L900 564.5A237 237 0 0 0 663 801.5Z" fill="#D67F17"/><circle cx="900.0" cy="801.5" r="239.0" fill="#EDEEF4"/><circle cx="900.0" cy="801.5" r="231.5" fill="#fff"/><line x1="668.5" y1="802.6" x2="1131.5" y2="802.6" stroke="#9A9A9A" stroke-width="1.3"/></g>
<g id="ticks"><line x1="588.53" y1="700.3" x2="583.77" y2="698.75" stroke="#1D4A7C" stroke-width="2"/><line x1="635.05" y1="609" x2="631" y2="606.06" stroke="#1D4A7C" stroke-width="2"/><line x1="707.5" y1="536.55" x2="704.56" y2="532.5" stroke="#1D4A7C" stroke-width="2"/><line x1="798.8" y1="490.03" x2="797.25" y2="485.27" stroke="#1D4A7C" stroke-width="2"/><line x1="815.24" y1="1117.84" x2="813.94" y2="1122.67" stroke="#1D4A7C" stroke-width="2"/><line x1="736.25" y1="1085.12" x2="733.75" y2="1089.45" stroke="#1D4A7C" stroke-width="2"/><line x1="668.42" y1="1033.08" x2="664.89" y2="1036.61" stroke="#1D4A7C" stroke-width="2"/><line x1="616.38" y1="965.25" x2="612.05" y2="967.75" stroke="#1D4A7C" stroke-width="2"/><line x1="583.66" y1="886.26" x2="578.83" y2="887.56" stroke="#1D4A7C" stroke-width="2"/><line x1="1001.2" y1="490.03" x2="1002.44" y2="486.22" stroke="#AE9876" stroke-width="1.6"/><line x1="1092.5" y1="536.55" x2="1094.85" y2="533.31" stroke="#AE9876" stroke-width="1.6"/><line x1="1164.95" y1="609" x2="1168.19" y2="606.65" stroke="#AE9876" stroke-width="1.6"/><line x1="1211.47" y1="700.3" x2="1215.28" y2="699.06" stroke="#AE9876" stroke-width="1.6"/></g>
<g id="ctext"><text font-family="'Liberation Sans', 'DejaVu Sans', sans-serif" text-anchor="start" textLength="224.94" lengthAdjust="spacingAndGlyphs"><textPath href="#cp1" textLength="224.94" lengthAdjust="spacingAndGlyphs"><tspan font-size="27.5" font-weight="700" fill="#fff">SOCIAL IMPACT</tspan></textPath></text><text font-family="'Liberation Sans', 'DejaVu Sans', sans-serif" text-anchor="start" textLength="279.3" lengthAdjust="spacingAndGlyphs"><textPath href="#cp2" textLength="279.3" lengthAdjust="spacingAndGlyphs"><tspan font-size="27.5" font-weight="700" fill="#fff">ECONOMIC IMPACT</tspan></textPath></text><text font-family="'Liberation Sans', 'DejaVu Sans', sans-serif" text-anchor="start" textLength="374.83" lengthAdjust="spacingAndGlyphs"><textPath href="#cp3" textLength="374.83" lengthAdjust="spacingAndGlyphs"><tspan font-size="27.5" font-weight="700" fill="#fff">ENVIRONMENTAL IMPACT</tspan></textPath></text><text font-family="'Liberation Sans', 'DejaVu Sans', sans-serif" text-anchor="start" textLength="276.64" lengthAdjust="spacingAndGlyphs" word-spacing="-2.5"><textPath href="#cp4" textLength="276.64" lengthAdjust="spacingAndGlyphs" word-spacing="-2.5"><tspan font-size="21.5" font-weight="700" fill="#fff">SUBSIDIZING BY THE FUND</tspan></textPath></text><text font-family="'Liberation Sans', 'DejaVu Sans', sans-serif" text-anchor="start" textLength="298.11" lengthAdjust="spacingAndGlyphs" word-spacing="-2.5"><textPath href="#cp5" textLength="298.11" lengthAdjust="spacingAndGlyphs" word-spacing="-2.5"><tspan font-size="21.5" font-weight="700" fill="#fff">FOR  THE ECONOMY OF THE</tspan></textPath></text><text font-family="'Liberation Sans', 'DejaVu Sans', sans-serif" text-anchor="start" textLength="305.8" lengthAdjust="spacingAndGlyphs" word-spacing="-2.5"><textPath href="#cp6" textLength="305.8" lengthAdjust="spacingAndGlyphs" word-spacing="-2.5"><tspan font-size="21.5" font-weight="700" fill="#fff">REPUBLIC OF KAZAKHSTAN</tspan><tspan font-size="12.5" font-weight="700" fill="#fff" dy="-8">9</tspan></textPath></text><text font-family="'Liberation Sans', 'DejaVu Sans', sans-serif" text-anchor="start" textLength="67.86" lengthAdjust="spacingAndGlyphs"><textPath href="#cp7" textLength="67.86" lengthAdjust="spacingAndGlyphs"><tspan font-size="45" font-weight="700" fill="#D67F17">916</tspan></textPath></text><text font-family="'Liberation Sans', 'DejaVu Sans', sans-serif" text-anchor="start" textLength="71.39" lengthAdjust="spacingAndGlyphs"><textPath href="#cp8" textLength="71.39" lengthAdjust="spacingAndGlyphs"><tspan font-size="31" font-weight="700" fill="#D67F17">(353)</tspan></textPath></text><text font-family="'Liberation Sans', 'DejaVu Sans', sans-serif" text-anchor="start" textLength="108.07" lengthAdjust="spacingAndGlyphs"><textPath href="#cp9" textLength="108.07" lengthAdjust="spacingAndGlyphs"><tspan font-size="45" font-weight="700" fill="#002F5D">8,256</tspan></textPath></text><text font-family="'Liberation Sans', 'DejaVu Sans', sans-serif" text-anchor="start" textLength="98.56" lengthAdjust="spacingAndGlyphs"><textPath href="#cp10" textLength="98.56" lengthAdjust="spacingAndGlyphs"><tspan font-size="31" font-weight="700" fill="#002F5D">(7,946)</tspan></textPath></text><text font-family="'Liberation Sans', 'DejaVu Sans', sans-serif" text-anchor="start" textLength="101.35" lengthAdjust="spacingAndGlyphs"><textPath href="#cp11" textLength="101.35" lengthAdjust="spacingAndGlyphs"><tspan font-size="45" font-weight="400" fill="#AE9876" stroke="#AE9876" stroke-width="0.8">1,272</tspan></textPath></text><text font-family="'Liberation Sans', 'DejaVu Sans', sans-serif" text-anchor="start" textLength="97.63" lengthAdjust="spacingAndGlyphs"><textPath href="#cp12" textLength="97.63" lengthAdjust="spacingAndGlyphs"><tspan font-size="31" font-weight="400" fill="#AE9876" stroke="#AE9876" stroke-width="0.6">(1,176)</tspan></textPath></text><text font-family="'Liberation Sans', 'DejaVu Sans', sans-serif" text-anchor="start" textLength="89.85" lengthAdjust="spacingAndGlyphs"><textPath href="#cp13" textLength="89.85" lengthAdjust="spacingAndGlyphs"><tspan font-size="45" font-weight="700" fill="#48AFB5">543</tspan></textPath></text><text font-family="'Liberation Sans', 'DejaVu Sans', sans-serif" text-anchor="start" textLength="75.45" lengthAdjust="spacingAndGlyphs"><textPath href="#cp14" textLength="75.45" lengthAdjust="spacingAndGlyphs"><tspan font-size="31" font-weight="700" fill="#48AFB5">(542)</tspan></textPath></text></g>
<g id="icons"><g transform="translate(813.3 96.3)" fill="none" stroke="#D67F17" stroke-width="2.7" stroke-linecap="round" stroke-linejoin="round"><circle r="29.6" stroke-width="3.4"/><g stroke-width="2.4"><path d="M-4.9 -9.9L-1.6 -3M13 -6.8L5.7 -1.2M-13.1 2.2L-5.2 2.2M13 9.5L6 5.6"/><circle cx="0.7" cy="2.2" r="5.9" fill="#fff" stroke-width="2.6"/></g><g fill="#D67F17" stroke="none"><circle cx="-4.9" cy="-9.9" r="3.3"/><circle cx="13" cy="-6.8" r="3.3"/><circle cx="-13.1" cy="2.2" r="3.3"/><circle cx="13" cy="9.5" r="3.3"/></g></g><g transform="translate(655.7 325.2)" fill="none" stroke="#D67F17" stroke-width="2.7" stroke-linecap="round" stroke-linejoin="round"><circle r="29.6" stroke-width="3.4"/><path fill="#D67F17" stroke="none" d="M-9.6 -6.4L9.6 -6.4Q9.9 -8.2 8.4 -8.6C8.2 -12 6.2 -14.6 3.9 -15.6L3.4 -11.6L2.2 -11.6L1.9 -16.6Q0.1 -17.3 -1.7 -16.6L-2 -11.6L-3.2 -11.6L-3.7 -15.6C-6 -14.6 -8 -12 -8.2 -8.6Q-9.9 -8.2 -9.6 -6.4Z"/><path stroke-width="2.4" stroke-linecap="butt" d="M-6.7 -3.2A6.8 6.8 0 0 0 6.9 -3.2"/><path stroke-width="2.8" d="M-12.8 14.4L13 14.4C13 10 9.6 6.8 6 6.8L-6 6.8C-9.6 6.8 -12.8 10 -12.8 14.4Z"/></g><g transform="translate(519.2 424.4)" fill="none" stroke="#D67F17" stroke-width="2.7" stroke-linecap="round" stroke-linejoin="round"><circle r="29.6" stroke-width="3.4"/><path stroke-width="2.6" d="M-8.8 3.6L-8.8 -10.6A2.5 2.5 0 0 1 -3.8 -10.6L-3.8 -1.6M-3.8 -10.6L-3.8 -12.6A2.75 2.75 0 0 1 1.7 -12.6L1.7 -1.6M1.7 -10.8A2.5 2.5 0 0 1 6.7 -10.8L6.7 -1.6M6.7 -7A2.5 2.5 0 0 1 11.7 -7L11.7 4.4C11.7 10.4 7.4 14.4 1 14.4C-3.6 14.4 -6 12.6 -8.6 10L-14.8 3.8A2.3 2.3 0 0 1 -11.6 0.6L-8.8 3.4"/><path fill="#D67F17" stroke="none" d="M0.6 10L-3.6 5.8A2.5 2.5 0 0 1 0.6 2.9A2.5 2.5 0 0 1 4.8 5.8Z"/></g><g transform="translate(423.7 557.3)" fill="none" stroke="#D67F17" stroke-width="2.7" stroke-linecap="round" stroke-linejoin="round"><circle r="29.6" stroke-width="3.4"/><path stroke-width="2.6" d="M-11.2 12.4L-16.2 7.6L-16.2 -6.8A2.5 2.5 0 0 1 -11.2 -6.8L-11.2 2.4L-6.6 7M-10.6 1.8C-8.6 0 -6.6 0.2 -5 1.6L0.1 6.6L0.1 12.4M11.4 12.4L16.4 7.6L16.4 -6.8A2.5 2.5 0 0 0 11.4 -6.8L11.4 2.4L6.8 7M10.8 1.8C8.8 0 6.8 0.2 5.2 1.6L0.1 6.6"/><g fill="#D67F17" stroke="none"><circle cx="0.1" cy="-12.3" r="2.1"/><path d="M-5.4 -5.6C-4.4 -8.4 -2.4 -9.2 0.1 -9.2C2.6 -9.2 4.4 -8.4 5.3 -5.6L3.6 -4.6L2.6 -6L2.8 0.4L0.7 0.4L0.4 -2.4L-0.2 -2.4L-0.5 0.4L-2.6 0.4L-2.4 -6L-3.6 -4.6Z"/></g></g><g transform="translate(373.4 716.4)" fill="none" stroke="#D67F17" stroke-width="2.7" stroke-linecap="round" stroke-linejoin="round"><circle r="29.6" stroke-width="3.4"/><path fill="#D67F17" stroke="none" d="M-13.8 -12.3Q-13.6 -13.4 -12 -13.6L0.2 -16.3L12.6 -13.6Q14.4 -13.2 14.4 -12.3Q14.4 -11.4 12.6 -11L0.2 -8.5L-12 -11Q-13.6 -11.3 -13.8 -12.3Z"/><path fill="#D67F17" stroke="none" d="M-13.1 -12L-11.5 -12L-11.5 -4.6L-10.4 -0.4L-14.2 -0.4L-13.1 -4.6Z"/><path stroke-width="2.7" stroke-linecap="butt" d="M-6.5 -7.2A6.7 6.7 0 0 0 6.9 -7.2"/><path stroke-width="2.9" d="M-12.8 14.4L13.2 14.4C13.2 10.4 11 7 7.5 5.9L0.2 11.7L-7.1 5.9C-10.6 7 -12.8 10.4 -12.8 14.4Z"/></g><g transform="translate(418 858.4)" fill="none" stroke="#AE9876" stroke-width="2.7" stroke-linecap="round" stroke-linejoin="round"><circle r="29.6" stroke-width="3.4"/><circle r="15.4" stroke-width="2.7"/><path fill="#AE9876" stroke="#AE9876" stroke-width="1.4" d="M4.2 -8.8L-6.4 -0.5L-1.4 0.5L-4.2 8.8L6.6 0.1L1.6 -0.9Z"/></g><g transform="translate(403 1008.7)" fill="none" stroke="#AE9876" stroke-width="2.7" stroke-linecap="round" stroke-linejoin="round"><circle r="29.6" stroke-width="3.4"/><path stroke-width="2.6" d="M-12.1 14.4L-12.1 -11.8A2.5 2.5 0 0 1 -9.6 -14.3L0 -14.3A2.5 2.5 0 0 1 2.5 -11.8L2.5 14.4M-14.2 14.5L5 14.5M-12.1 -2.4L2.5 -2.4M2.5 1.5L4.6 1.5A3.8 3.8 0 0 1 8.4 5.3L8.4 7.7A2.9 2.9 0 0 0 14.2 7.7L14.2 -7.4L9 -12.6"/><path fill="#AE9876" stroke="none" d="M10.2 -10.2L14.4 -7.4L14.4 -1.4L11.4 -3.2Q10.2 -5.6 10.2 -10.2Z"/></g><g transform="translate(468.5 1124.2)" fill="none" stroke="#AE9876" stroke-width="2.7" stroke-linecap="round" stroke-linejoin="round"><circle r="29.6" stroke-width="3.4"/><path stroke-width="2.6" d="M0 -14.6L15 -8.8L15 7.3L0 14.6L-14.9 7.3L-14.9 -8.8ZM-14.9 -8.8L0 -1.5L15 -8.8M0 -1.5L0 14.6"/></g><g transform="translate(532.4 1226.4)" fill="none" stroke="#AE9876" stroke-width="2.7" stroke-linecap="round" stroke-linejoin="round"><circle r="29.6" stroke-width="3.4"/><rect x="-12.1" y="-14.4" width="25.1" height="24.9" rx="6.5" stroke-width="2.8"/><path stroke-width="2.8" stroke-linecap="butt" d="M-12.1 -8.4L13 -8.4M-12.1 -0.2L13 -0.2"/><path stroke-width="3" stroke-linecap="butt" d="M-5.6 11.3L-9.8 15.9M6.1 11.3L10.2 15.9"/><circle cx="0.2" cy="5.4" r="2.6" fill="#AE9876" stroke="none"/></g><g transform="translate(686.3 1296.6)" fill="none" stroke="#AE9876" stroke-width="2.7" stroke-linecap="round" stroke-linejoin="round"><circle r="29.6" stroke-width="3.4"/><path fill="#AE9876" stroke="none" fill-rule="evenodd" d="M0 3.2C-5.6 3.2 -8.4 -0.6 -8.4 -4.6C-8.4 -9.4 -5.6 -13.4 -1.8 -15.9C-0.6 -15.2 0.6 -14.2 1 -13.2C1.6 -14 2.4 -14.4 3.3 -14.6C6.6 -12.2 8.7 -8.6 8.7 -4.6C8.7 -0.6 5.6 3.2 0 3.2ZM0.1 -7.7C-1.6 -5.6 -3.4 -4 -3.4 -2C-3.4 0 -1.8 1.3 0.2 1.3C2.2 1.3 3.9 0 3.9 -2C3.9 -4 1.8 -5.6 0.1 -7.7Z"/><path fill="#AE9876" stroke="none" fill-rule="evenodd" d="M-15.8 5.6L16.1 5.6Q17.5 5.6 17.5 7L17.5 10.7Q17.5 12.1 16.1 12.1L-15.8 12.1Q-17.2 12.1 -17.2 10.7L-17.2 7Q-17.2 5.6 -15.8 5.6ZM-14.7 8.3L-8.8 8.3L-8.8 9.4L-14.7 9.4ZM-5.1 8.3L-1.7 8.3L-1.7 9.4L-5.1 9.4ZM1.8 8.3L5.4 8.3L5.4 9.4L1.8 9.4ZM8.9 8.3L14.8 8.3L14.8 9.4L8.9 9.4Z"/><path stroke-width="2.6" stroke-linejoin="miter" d="M-14.7 5.6L-14.7 -0.6L-11.4 -0.6M14.8 5.6L14.8 -0.6L11.6 -0.6"/></g><g transform="translate(733.3 1404.5)" fill="none" stroke="#AE9876" stroke-width="2.7" stroke-linecap="round" stroke-linejoin="round"><circle r="29.6" stroke-width="3.4"/><path stroke-width="2.7" stroke-linejoin="round" d="M-3.4 -8.1A10.8 10.8 0 1 0 7.8 2.8L-2 2.8Q-3.2 2.8 -3.2 1.6L-3.2 -8.1Z"/><path fill="#AE9876" stroke="#AE9876" stroke-width="1" d="M1.5 -1.4L1.5 -14.8A13.6 13.6 0 0 1 15.2 -1.4Z"/></g><g transform="translate(955.8 97.4)" fill="none" stroke="#002F5D" stroke-width="2.7" stroke-linecap="round" stroke-linejoin="round"><circle r="29.6" stroke-width="3.4"/><path stroke-width="3" d="M-12.5 -4.6L-5 -10.9L2.3 -5.2L12.3 -15.4M5.6 -16.1L13 -16.1L13 -8.8"/><path fill="#002F5D" stroke="none" fill-rule="evenodd" d="M-14.2 -1L14.4 -1Q16.1 -1 16.1 0.7L16.1 13.1Q16.1 14.8 14.4 14.8L-14.2 14.8Q-15.9 14.8 -15.9 13.1L-15.9 0.7Q-15.9 -1 -14.2 -1ZM-9.8 1.6L10 1.6A3.8 3.8 0 0 0 13.4 5.2L13.4 8.6A3.8 3.8 0 0 0 10 12.2L-9.8 12.2A3.8 3.8 0 0 0 -13.6 8.6L-13.6 5.2A3.8 3.8 0 0 0 -9.8 1.6Z"/><circle cx="0" cy="6.9" r="4" fill="#002F5D" stroke="none"/></g><g transform="translate(1215.5 159.1)" fill="none" stroke="#002F5D" stroke-width="2.7" stroke-linecap="round" stroke-linejoin="round"><circle r="29.6" stroke-width="3.4"/><path stroke-width="2.8" stroke-linecap="butt" stroke-linejoin="miter" d="M-15.4 3.4L-15.4 -7.2Q-15.4 -9.7 -12.9 -9.7L16.4 -9.7M15.1 -3.8L15.1 6.8Q15.1 9.3 12.6 9.3L-16.2 9.3"/><path stroke-width="3.2" stroke-linejoin="miter" stroke-linecap="round" d="M13.4 -13.4L17.6 -9.7L13.4 -6M-13.2 5.6L-17.4 9.3L-13.2 13.2"/><path fill="#002F5D" stroke="none" d="M-15.4 -9.7L-9.6 -9.7A5.6 5.6 0 0 1 -15.4 -4.4ZM15.1 9.3L9.4 9.3A5.6 5.6 0 0 1 15.1 4Z"/><circle cx="0" cy="0.1" r="5.4" fill="#002F5D" stroke="none"/></g><g transform="translate(1687.3 335.4)" fill="none" stroke="#002F5D" stroke-width="2.7" stroke-linecap="round" stroke-linejoin="round"><circle r="29.6" stroke-width="3.4"/><path stroke-width="2.7" stroke-linecap="butt" d="M-6.6 -5L-6.6 -13.4Q-6.6 -15.7 -4.3 -15.7L7.9 -15.7Q10.2 -15.7 10.2 -13.4L10.2 -5"/><rect x="-14.3" y="-1.9" width="16.5" height="15.1" rx="2.8" stroke-width="2.7"/><path stroke-width="2.7" stroke-linecap="butt" d="M5.2 -1.9L15.6 -1.9Q18.1 -1.9 18.1 0.6L18.1 10.7Q18.1 13.2 15.6 13.2L5.2 13.2"/><path fill="#002F5D" stroke="none" d="M-0.3 -15.6L4.1 -15.6L4.1 -10.2Q4.1 -9.4 3.3 -9.4L0.5 -9.4Q-0.3 -9.4 -0.3 -10.2ZM-8.2 -1.8L-3.6 -1.8L-3.6 3.6Q-3.6 4.4 -4.4 4.4L-7.4 4.4Q-8.2 4.4 -8.2 3.6ZM7.7 -1.8L12 -1.8L12 3.6Q12 4.4 11.2 4.4L8.5 4.4Q7.7 4.4 7.7 3.6ZM4.6 -3.2L8 -3.2L8 -0.6L6.2 -0.6Z"/></g><g transform="translate(1584.2 606.4)" fill="none" stroke="#002F5D" stroke-width="2.7" stroke-linecap="round" stroke-linejoin="round"><circle r="29.6" stroke-width="3.4"/><path stroke-width="2.9" d="M-3.54 -12.17A5.2 5.2 0 0 1 6.54 -12.17A5.2 5.2 0 0 1 13.67 -5.04A5.2 5.2 0 0 1 13.67 5.04A5.2 5.2 0 0 1 6.54 12.17A5.2 5.2 0 0 1 -3.54 12.17A5.2 5.2 0 0 1 -10.67 5.04A5.2 5.2 0 0 1 -10.67 -5.04A5.2 5.2 0 0 1 -3.54 -12.17Z"/><path stroke-width="2.6" stroke-linecap="butt" d="M-2.7 4.4L5.9 -4.4"/><g fill="#002F5D" stroke="none"><circle cx="-2.9" cy="-4.2" r="2.3"/><circle cx="6.1" cy="4.4" r="2.3"/></g></g><g transform="translate(1377.8 886.4)" fill="none" stroke="#48AFB5" stroke-width="2.7" stroke-linecap="round" stroke-linejoin="round"><circle r="29.6" stroke-width="3.4"/><g stroke-width="2.7" stroke-linecap="butt"><ellipse cx="-4" cy="-2.3" rx="10.7" ry="4.2"/><path d="M-14.7 -2.3L-14.7 11.7A10.7 4.2 0 0 0 6.7 11.7L6.7 -2.3M-14.7 2.4A10.7 4.2 0 0 0 6.7 2.4M-14.7 7.1A10.7 4.2 0 0 0 6.7 7.1"/><path d="M-7.3 -9.8C-6.6 -12.6 -1.6 -14.6 4 -14.6C10.4 -14.6 15.3 -12.8 15.3 -10.4L15.3 2.4C15.3 4.6 13.4 6.2 10.2 7.2"/><path d="M7 -7.4C10 -7.6 12.8 -8.2 14.6 -9.4M10.4 -1C12.2 -1.2 13.6 -1.8 14.8 -2.6"/></g></g><g transform="translate(1385.3 1114.3)" fill="none" stroke="#48AFB5" stroke-width="2.7" stroke-linecap="round" stroke-linejoin="round"><circle r="29.6" stroke-width="3.4"/><path stroke-width="2.9" d="M-16.8 9L-16.8 -1.6L-7.4 -9.5L2 -1.6L2 9A2.2 2.2 0 0 1 -0.2 11.2L-14.6 11.2A2.2 2.2 0 0 1 -16.8 9Z"/><circle cx="-7.4" cy="1.5" r="2.9" fill="#48AFB5" stroke="none"/><path stroke-width="2.9" stroke-linecap="butt" stroke-linejoin="miter" d="M-1.3 -9.1L4.3 -15.1L13.2 -6.2L7 -6.2L15.1 2L8.9 2L17 11.2L5 11.2"/></g><g transform="translate(1197.6 1248.2)" fill="none" stroke="#48AFB5" stroke-width="2.7" stroke-linecap="round" stroke-linejoin="round"><circle r="29.6" stroke-width="3.4"/><path stroke-width="2.7" d="M0 -0.4L0 -7.2C0 -11.2 -3.2 -14.2 -7 -14.2L-11 -14.2L-11 -12C-11 -8.6 -7.8 -6.2 -4.4 -6.2L-0.4 -6.2"/><path stroke-width="2.7" stroke-linecap="butt" d="M2.2 -11.6C3.6 -13.2 5.4 -14.2 7.6 -14.2L11.3 -14.2L11.3 -12C11.3 -8.6 8 -6.2 4 -6.2"/><path stroke-width="2.7" d="M-15.4 7.9L-13 7.9C-11 7.9 -8.6 4.2 -6 4.2L3.8 4.2C5.8 4.2 6.9 6 6.9 7.4C6.9 8.4 6.4 8.8 5.6 8.8L-1.6 8.8M6.4 8.6L11.6 5.6C13.4 4.6 15.2 5.2 15.8 6.6C16.2 7.6 15.8 8.4 15 9L8.4 13.4L-15.4 13.4"/></g><g transform="translate(1002 1321.5)" fill="none" stroke="#48AFB5" stroke-width="2.7" stroke-linecap="round" stroke-linejoin="round"><circle r="29.6" stroke-width="3.4"/><g fill="#48AFB5" stroke="none"><path d="M-14 -13.3L-12.8 -14.5L-9.4 -14.5L-8.2 -13.3L-9.4 -12.1L-12.8 -12.1ZM-16 -8.9L-14.6 -10.2L-7.6 -10.2L-6.2 -8.9L-7.6 -7.6L-14.6 -7.6ZM-14 -4.1L-12.8 -5.3L-9.4 -5.3L-8.2 -4.1L-9.4 -2.9L-12.8 -2.9Z"/><ellipse cx="-3.1" cy="-12.8" rx="4.2" ry="2.3" transform="rotate(50 -3.1 -12.8)"/><ellipse cx="4" cy="-12.8" rx="4.2" ry="2.3" transform="rotate(50 4 -12.8)"/><ellipse cx="11.1" cy="-12.8" rx="4.2" ry="2.3" transform="rotate(50 11.1 -12.8)"/><ellipse cx="-3.1" cy="-4.7" rx="4.2" ry="2.3" transform="rotate(-50 -3.1 -4.7)"/><ellipse cx="4" cy="-4.7" rx="4.2" ry="2.3" transform="rotate(-50 4 -4.7)"/><ellipse cx="11.1" cy="-4.7" rx="4.2" ry="2.3" transform="rotate(-50 11.1 -4.7)"/></g><path fill="#48AFB5" stroke="none" fill-rule="evenodd" d="M-14.2 0.5L14.4 0.5Q16.1 0.5 16.1 2.2L16.1 14.7Q16.1 16.4 14.4 16.4L-14.2 16.4Q-15.9 16.4 -15.9 14.7L-15.9 2.2Q-15.9 0.5 -14.2 0.5ZM-9.8 3.1L10 3.1A3.8 3.8 0 0 0 13.4 6.7L13.4 10.2A3.8 3.8 0 0 0 10 13.8L-9.8 13.8A3.8 3.8 0 0 0 -13.6 10.2L-13.6 6.7A3.8 3.8 0 0 0 -9.8 3.1Z"/><circle cx="0" cy="8.45" r="4" fill="#48AFB5" stroke="none"/></g></g>
<g id="texts"><text x="868.68" y="660.7" font-size="19.19" font-weight="700" fill="#13110C" textLength="46.13" lengthAdjust="spacingAndGlyphs">2024</text><text x="856.39" y="685.9" font-size="26.16" font-weight="700" fill="#13110C" textLength="66.28" lengthAdjust="spacingAndGlyphs">Total</text><text x="751.21" y="781.9" font-size="95.93" font-weight="700" fill="#13110C" textLength="285.9" lengthAdjust="spacingAndGlyphs">10,987</text><text x="871.57" y="842.6" font-size="19.48" font-weight="700" fill="#9C999C" textLength="47.1" lengthAdjust="spacingAndGlyphs">2023</text><text x="862.38" y="867.5" font-size="26.89" font-weight="700" fill="#9C999C" textLength="67.1" lengthAdjust="spacingAndGlyphs">Total</text><text x="793.8" y="925.8" font-size="57.56" font-weight="700" fill="#9C999C" textLength="216.9" lengthAdjust="spacingAndGlyphs">(10,017)</text><text x="498.31" y="86.6" font-size="28.34" font-weight="700" fill="#13110C" textLength="261.69" lengthAdjust="spacingAndGlyphs">Other distributions</text><text x="511.55" y="122.5" font-size="28.34" font-weight="700" fill="#13110C" textLength="254.39" lengthAdjust="spacingAndGlyphs">to the Shareholder</text><text x="784.36" y="181" font-size="50.87" font-weight="700" fill="#D67F17" textLength="88.77" lengthAdjust="spacingAndGlyphs">568</text><text x="782.94" y="218" font-size="37.5" font-weight="700" fill="#D67F17" textLength="87.22" lengthAdjust="spacingAndGlyphs">(133)</text><text x="414.02" y="269.1" font-size="28.34" font-weight="700" fill="#13110C" textLength="231.74" lengthAdjust="spacingAndGlyphs">H&amp;S investments</text><text x="662.02" y="402.9" font-size="50.87" font-weight="700" fill="#D67F17" textLength="86.81" lengthAdjust="spacingAndGlyphs">119</text><text x="661.87" y="439.7" font-size="35.76" font-weight="700" fill="#D67F17" textLength="85.65" lengthAdjust="spacingAndGlyphs">(109)</text><text x="361.13" y="378.7" font-size="28.34" font-weight="700" fill="#13110C" textLength="97.92" lengthAdjust="spacingAndGlyphs">Charity</text><text x="546.55" y="494.8" font-size="50.73" font-weight="700" fill="#D67F17" textLength="83.34" lengthAdjust="spacingAndGlyphs">101</text><text x="566.45" y="530.7" font-size="36.05" font-weight="700" fill="#D67F17" textLength="66.21" lengthAdjust="spacingAndGlyphs">(76)</text><text x="137.89" y="487.5" font-size="28.34" font-weight="700" fill="#13110C" textLength="240.43" lengthAdjust="spacingAndGlyphs">Social support for</text><text x="223.85" y="523.2" font-size="28.34" font-weight="700" fill="#13110C" textLength="155.23" lengthAdjust="spacingAndGlyphs">the regions</text><text x="486.5" y="596.2" font-size="50.87" font-weight="700" fill="#D67F17" textLength="58.46" lengthAdjust="spacingAndGlyphs">45</text><text x="485.48" y="637.4" font-size="36.34" font-weight="700" fill="#D67F17" textLength="64.83" lengthAdjust="spacingAndGlyphs">(54)</text><text x="96.72" y="658.6" font-size="28.34" font-weight="700" fill="#13110C" textLength="207.01" lengthAdjust="spacingAndGlyphs">Investments in</text><text x="168.87" y="694.4" font-size="28.34" font-weight="700" fill="#13110C" textLength="134.03" lengthAdjust="spacingAndGlyphs">employee</text><text x="148.44" y="729.9" font-size="28.34" font-weight="700" fill="#13110C" textLength="147.47" lengthAdjust="spacingAndGlyphs">healthcare</text><text x="115.36" y="765.6" font-size="28.34" font-weight="700" fill="#13110C" textLength="195.03" lengthAdjust="spacingAndGlyphs">and education</text><text x="450.61" y="733.6" font-size="50.87" font-weight="700" fill="#D67F17" textLength="59.11" lengthAdjust="spacingAndGlyphs">83</text><text x="449.76" y="771.1" font-size="36.34" font-weight="700" fill="#D67F17" textLength="65.57" lengthAdjust="spacingAndGlyphs">(25)</text><text x="132.82" y="875" font-size="28.34" font-weight="700" fill="#13110C" textLength="210.43" lengthAdjust="spacingAndGlyphs">Energy security</text><text x="490.03" y="848.2" font-size="49.86" font-weight="700" fill="#AE9876" textLength="31.54" lengthAdjust="spacingAndGlyphs">2</text><text x="489.65" y="884.1" font-size="35.9" font-weight="700" fill="#AE9876" textLength="45.29" lengthAdjust="spacingAndGlyphs">(9)</text><text x="156.44" y="1025.2" font-size="28.34" font-weight="700" fill="#13110C" textLength="166.52" lengthAdjust="spacingAndGlyphs">Oil products</text><text x="437.62" y="975" font-size="51.02" font-weight="700" fill="#AE9876" textLength="90.57" lengthAdjust="spacingAndGlyphs">277</text><text x="447.25" y="1012.7" font-size="35.9" font-weight="700" fill="#AE9876" textLength="86.91" lengthAdjust="spacingAndGlyphs">(199)</text><text x="231.52" y="1161.6" font-size="28.34" font-weight="700" fill="#13110C" textLength="178.54" lengthAdjust="spacingAndGlyphs">Rural parcels</text><text x="551.47" y="1038.2" font-size="50.29" font-weight="700" fill="#AE9876" textLength="52.34" lengthAdjust="spacingAndGlyphs">21</text><text x="549.99" y="1075.6" font-size="36.63" font-weight="700" fill="#AE9876" textLength="64.73" lengthAdjust="spacingAndGlyphs">(17)</text><text x="144.24" y="1277.4" font-size="28.34" font-weight="700" fill="#13110C" textLength="316.59" lengthAdjust="spacingAndGlyphs">Railway transportation</text><text x="569.34" y="1177.7" font-size="50.29" font-weight="700" fill="#AE9876" textLength="91.44" lengthAdjust="spacingAndGlyphs">358</text><text x="574.53" y="1213.1" font-size="34.3" font-weight="700" fill="#AE9876" textLength="87.64" lengthAdjust="spacingAndGlyphs">(361)</text><text x="325.08" y="1350.5" font-size="28.34" font-weight="700" fill="#13110C" textLength="289.38" lengthAdjust="spacingAndGlyphs">Domestic gas market</text><text x="689.21" y="1208.5" font-size="50.29" font-weight="700" fill="#AE9876" textLength="89.74" lengthAdjust="spacingAndGlyphs">178</text><text x="688.06" y="1237.4" font-size="34.59" font-weight="700" fill="#AE9876" textLength="86.39" lengthAdjust="spacingAndGlyphs">(208)</text><text x="532.81" y="1465.2" font-size="28.34" font-weight="700" fill="#13110C" textLength="325.94" lengthAdjust="spacingAndGlyphs">Capital investments not</text><text x="617.56" y="1500.6" font-size="28.34" font-weight="700" fill="#13110C" textLength="226.98" lengthAdjust="spacingAndGlyphs">covered by tariff</text><text x="782.18" y="1370.1" font-size="50.15" font-weight="700" fill="#AE9876" textLength="90.58" lengthAdjust="spacingAndGlyphs">436</text><text x="781.15" y="1404" font-size="34.59" font-weight="700" fill="#AE9876" textLength="86.49" lengthAdjust="spacingAndGlyphs">(382)</text><text x="1012.6" y="103.7" font-size="28.34" font-weight="700" fill="#13110C" textLength="135.46" lengthAdjust="spacingAndGlyphs">Dividends</text><text x="963.84" y="179.4" font-size="52.62" font-weight="700" fill="#002F5D" textLength="91.46" lengthAdjust="spacingAndGlyphs">737</text><text x="966.39" y="214.9" font-size="36.34" font-weight="700" fill="#002F5D" textLength="115.33" lengthAdjust="spacingAndGlyphs">(1,269)</text><text x="1272.84" y="157" font-size="28.34" font-weight="700" fill="#13110C" textLength="277.37" lengthAdjust="spacingAndGlyphs">Investment projects</text><text x="1247.73" y="236.2" font-size="50.87" font-weight="700" fill="#002F5D" textLength="133.71" lengthAdjust="spacingAndGlyphs">1,928</text><text x="1246.8" y="273.1" font-size="35.47" font-weight="700" fill="#002F5D" textLength="114.81" lengthAdjust="spacingAndGlyphs">(1,302)</text><text x="1657.65" y="237.6" font-size="28.34" font-weight="700" fill="#13110C" textLength="252.96" lengthAdjust="spacingAndGlyphs">Procurement from</text><text x="1657.64" y="273.3" font-size="28.34" font-weight="700" fill="#13110C" textLength="196.31" lengthAdjust="spacingAndGlyphs">local suppliers</text><text x="1733.98" y="331.7" font-size="52.47" font-weight="700" fill="#002F5D" textLength="133.31" lengthAdjust="spacingAndGlyphs">3.505</text><text x="1732.85" y="368" font-size="37.5" font-weight="700" fill="#002F5D" textLength="124" lengthAdjust="spacingAndGlyphs">(3,382)</text><text x="1630.38" y="576.7" font-size="28.34" font-weight="700" fill="#13110C" textLength="231.79" lengthAdjust="spacingAndGlyphs">Taxes paid to the</text><text x="1629.42" y="612.4" font-size="28.34" font-weight="700" fill="#13110C" textLength="309.62" lengthAdjust="spacingAndGlyphs">budget of the Republic</text><text x="1630.19" y="648.1" font-size="28.34" font-weight="700" fill="#13110C" textLength="192.88" lengthAdjust="spacingAndGlyphs">of Kazakhstan</text><text x="1572.71" y="713.2" font-size="51.89" font-weight="700" fill="#002F5D" textLength="136.15" lengthAdjust="spacingAndGlyphs">2,086</text><text x="1571.61" y="749.9" font-size="36.63" font-weight="700" fill="#002F5D" textLength="126.79" lengthAdjust="spacingAndGlyphs">(1,993)</text><text x="1264.91" y="878" font-size="51.45" font-weight="700" fill="#48AFB5" textLength="61.62" lengthAdjust="spacingAndGlyphs">17</text><text x="1264.87" y="914.2" font-size="34.59" font-weight="700" fill="#48AFB5" textLength="65.36" lengthAdjust="spacingAndGlyphs">(23)</text><text x="1437.46" y="899.1" font-size="28.34" font-weight="700" fill="#13110C" textLength="344.32" lengthAdjust="spacingAndGlyphs">Environmental payments</text><text x="1272.98" y="1061.2" font-size="50.58" font-weight="700" fill="#48AFB5" textLength="89.01" lengthAdjust="spacingAndGlyphs">394</text><text x="1272.31" y="1096.8" font-size="34.3" font-weight="700" fill="#48AFB5" textLength="88.37" lengthAdjust="spacingAndGlyphs">(375)</text><text x="1437.49" y="1127.2" font-size="28.34" font-weight="700" fill="#13110C" textLength="279.08" lengthAdjust="spacingAndGlyphs">Liquidation reserves</text><text x="1098.89" y="1137.2" font-size="49.27" font-weight="700" fill="#48AFB5" textLength="54.57" lengthAdjust="spacingAndGlyphs">51</text><text x="1098.58" y="1174" font-size="34.59" font-weight="700" fill="#48AFB5" textLength="65.15" lengthAdjust="spacingAndGlyphs">(61)</text><text x="1245.35" y="1265.6" font-size="28.34" font-weight="700" fill="#13110C" textLength="352.86" lengthAdjust="spacingAndGlyphs">Environmental protection</text><text x="1246.17" y="1300.9" font-size="28.34" font-weight="700" fill="#13110C" textLength="180.02" lengthAdjust="spacingAndGlyphs">expenditures</text><text x="958.81" y="1196" font-size="48.84" font-weight="700" fill="#48AFB5" textLength="55.89" lengthAdjust="spacingAndGlyphs">81</text><text x="957.8" y="1232.7" font-size="34.59" font-weight="700" fill="#48AFB5" textLength="67.9" lengthAdjust="spacingAndGlyphs">(83)</text><text x="956.07" y="1403.1" font-size="28.34" font-weight="700" fill="#13110C" textLength="364.28" lengthAdjust="spacingAndGlyphs">Reserve for environmental</text><text x="956.83" y="1438.1" font-size="28.34" font-weight="700" fill="#13110C" textLength="310.05" lengthAdjust="spacingAndGlyphs">damage compensation</text><text x="873.06" y="1605" font-size="25.58" font-weight="400" fill="#000" textLength="54.97" lengthAdjust="spacingAndGlyphs">2024</text><text x="873.05" y="1669.9" font-size="25.58" font-weight="400" fill="#000" textLength="55.34" lengthAdjust="spacingAndGlyphs">2023</text></g>
<g id="legend"><line x1="810" y1="1566.3" x2="992" y2="1566.3" stroke="#000" stroke-width="1.4"/><line x1="810" y1="1628.4" x2="992" y2="1628.4" stroke="#000" stroke-width="1.4"/><circle cx="858.2" cy="1565.6" r="11.8" fill="#D5802B"/><circle cx="858.2" cy="1628.6" r="12.6" fill="#fff"/><circle cx="858.2" cy="1628.6" r="10.6" fill="url(#h_lo)"/><circle cx="886" cy="1565.6" r="11.8" fill="#AE9876"/><circle cx="886" cy="1628.6" r="12.6" fill="#fff"/><circle cx="886" cy="1628.6" r="10.6" fill="url(#h_lt)"/><circle cx="913.8" cy="1565.6" r="11.8" fill="#48AFB5"/><circle cx="913.8" cy="1628.6" r="12.6" fill="#fff"/><circle cx="913.8" cy="1628.6" r="10.6" fill="url(#h_le)"/><circle cx="941.6" cy="1565.6" r="11.8" fill="#002F5D"/><circle cx="941.6" cy="1628.6" r="12.6" fill="#fff"/><circle cx="941.6" cy="1628.6" r="10.6" fill="url(#h_ln)"/></g>
</svg>
</body></html>
